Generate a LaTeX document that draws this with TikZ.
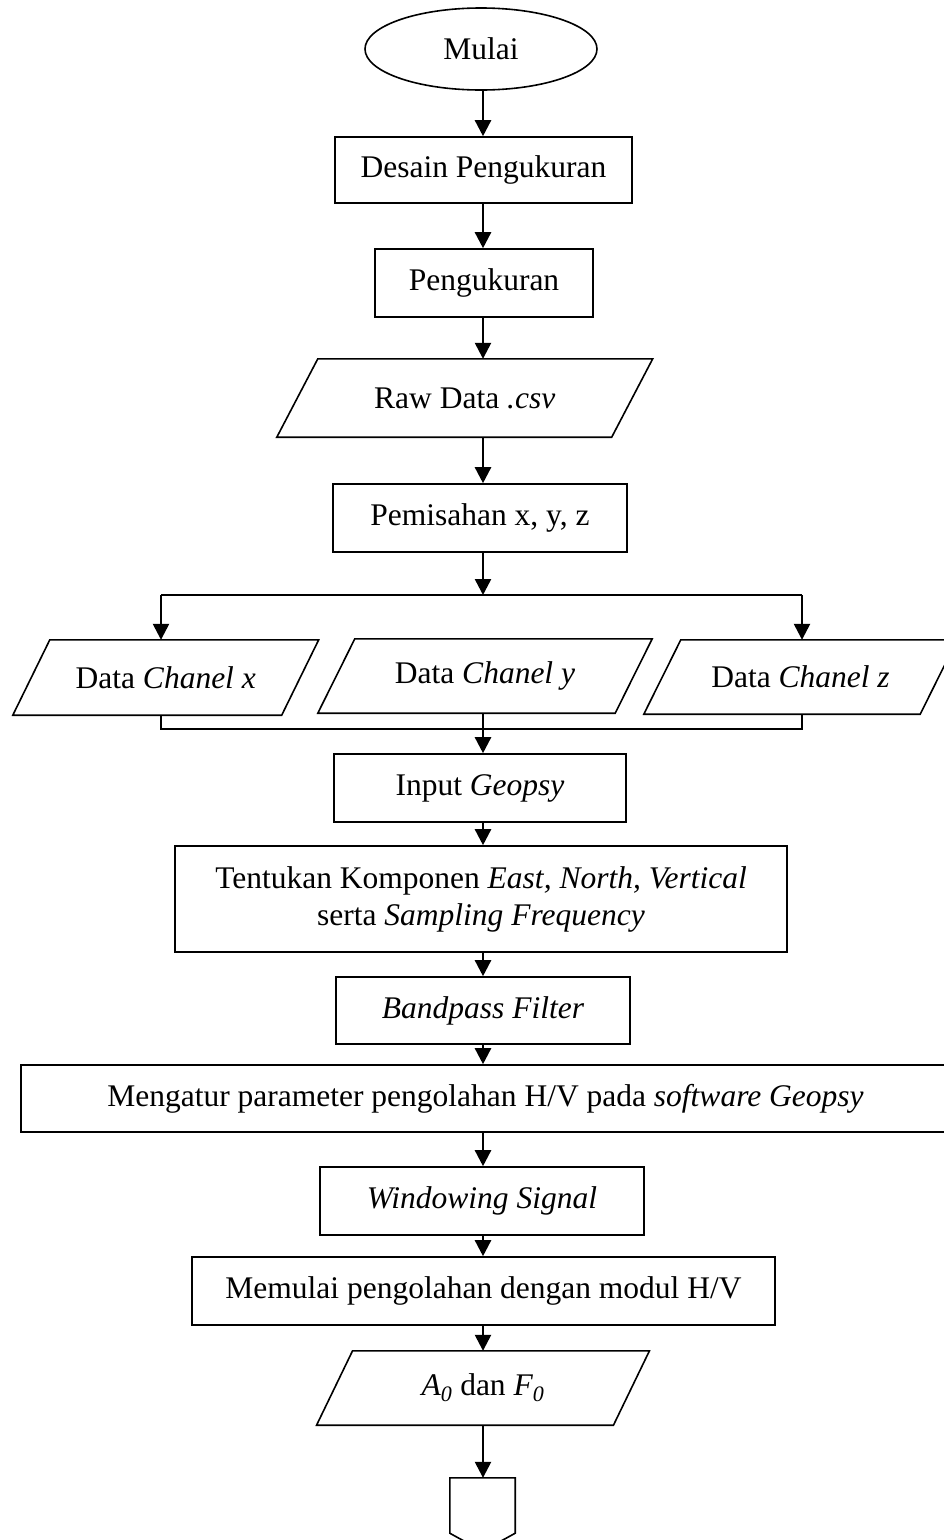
\documentclass[tikz,border=0pt]{standalone}
\usepackage{fontspec}
\setmainfont{Liberation Serif}
\usetikzlibrary{shapes.geometric,arrows.meta,calc}
\tikzset{
  every node/.style={font=\fontsize{31.5}{37}\selectfont, inner sep=0pt, align=center},
  procbox/.style={draw, rectangle, line width=1.6pt},
  termbox/.style={draw, ellipse, line width=1.6pt},
  iobox/.style={rectangle, draw=none},
  slantline/.style={line width=1.6pt},
  arr/.style={line width=2.5pt, -{Triangle[length=16pt,width=16pt]}},
  conn/.style={line width=2.5pt},
}
\newcommand{\para}[2]{%
  \draw[slantline] ([xshift=#2]#1.north west) -- ([xshift=#2]#1.north east) -- ([xshift=-#2]#1.south east) -- ([xshift=-#2]#1.south west) -- cycle;}
\begin{document}
\begin{tikzpicture}[x=1pt,y=-1pt]
\useasboundingbox (0,0) rectangle (944,1540);
\clip (0,0) rectangle (944,1540);
\fill[white] (0,0) rectangle (944,1540);
\coordinate (spine) at (483,0);

\node[termbox, minimum width=232pt, minimum height=82pt] (mulai) at (481,49) {Mulai};
\node[procbox, minimum width=297pt, minimum height=66pt] (desain) at (483.5,170) {Desain Pengukuran};
\node[procbox, minimum width=218pt, minimum height=68pt] (peng) at (484,283) {Pengukuran};
\node[iobox, minimum width=334.5pt, minimum height=78pt] (raw) at (464.75,398) {Raw Data \textit{.csv}};
\para{raw}{20.5pt}
\node[procbox, minimum width=294pt, minimum height=68pt] (pem) at (480,518) {Pemisahan x, y, z};

\node[iobox, minimum width=268.5pt, minimum height=75pt] (chx) at (165.75,677.5) {Data \textit{Chanel x}};
\para{chx}{18.5pt}
\node[iobox, minimum width=297pt, minimum height=74pt] (chy) at (485,676) {Data \textit{Chanel y}};
\para{chy}{18.5pt}
\node[iobox, minimum width=276pt, minimum height=74pt] (chz) at (800.5,677) {Data \textit{Chanel z}};
\para{chz}{18.5pt}

\node[procbox, minimum width=292pt, minimum height=68pt] (inp) at (480,788) {Input \textit{Geopsy}};
\node[procbox, minimum width=612pt, minimum height=106pt] (tent) at (481,899) {Tentukan Komponen \textit{East, North, Vertical}\\serta \textit{Sampling Frequency}};
\node[procbox, minimum width=294pt, minimum height=67pt] (band) at (483,1010.5) {\textit{Bandpass Filter}};
\node[procbox, minimum width=929pt, minimum height=67pt] (atur) at (485.5,1098.5) {Mengatur parameter pengolahan H/V pada \textit{software Geopsy}};
\node[procbox, minimum width=324pt, minimum height=68pt] (win) at (482,1201) {\textit{Windowing Signal}};
\node[procbox, minimum width=583pt, minimum height=68pt] (mem) at (483.5,1291) {Memulai pengolahan dengan modul H/V};
\node[iobox, minimum width=296.5pt, minimum height=74pt] (hasil) at (483,1388) {\textit{A\textsubscript{0}} dan \textit{F\textsubscript{0}}};
\para{hasil}{18pt}

\node[rectangle, draw=none, minimum width=65pt, minimum height=55pt] (off) at (482.5,1505.5) {};
\draw[slantline] (off.south west) -- (off.north west) -- (off.north east) -- (off.south east) -- ($(off.south)+(0,18)$) -- cycle;

% connectors
\draw[arr] (mulai.south -| spine) -- (desain.north -| spine);
\draw[arr] (desain.south -| spine) -- (peng.north -| spine);
\draw[arr] (peng.south -| spine) -- (raw.north -| spine);
\draw[arr] (raw.south -| spine) -- (pem.north -| spine);

\coordinate (bl) at (161,595);
\coordinate (br) at (802,595);
\draw[arr] (pem.south -| spine) -- (spine |- bl);
\draw[conn] (bl) -- (br);
\draw[arr] (bl) -- (bl |- chx.north);
\draw[arr] (br) -- (br |- chz.north);

\coordinate (ml) at (161,729);
\coordinate (mr) at (802,729);
\draw[conn] (ml |- chx.south) -- (ml) -- (mr) -- (mr |- chz.south);
\draw[arr] (chy.south -| spine) -- (inp.north -| spine);

\draw[arr] (inp.south -| spine) -- (tent.north -| spine);
\draw[arr] (tent.south -| spine) -- (band.north -| spine);
\draw[arr] (band.south -| spine) -- (atur.north -| spine);
\draw[arr] (atur.south -| spine) -- (win.north -| spine);
\draw[arr] (win.south -| spine) -- (mem.north -| spine);
\draw[arr] (mem.south -| spine) -- (hasil.north -| spine);
\draw[arr] (hasil.south -| spine) -- (off.north -| spine);
\end{tikzpicture}
\end{document}
